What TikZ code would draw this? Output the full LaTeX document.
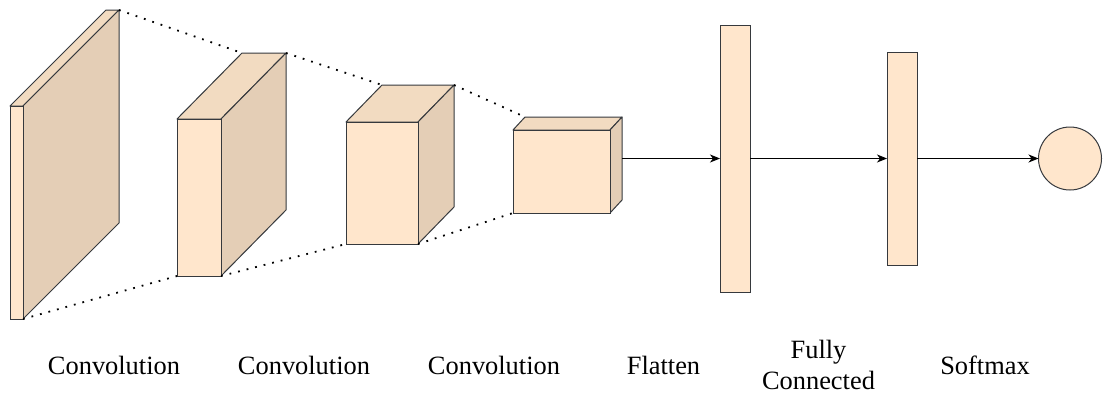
\documentclass[tikz,border=0pt]{standalone}
\usepackage{fontspec}
\setmainfont{Liberation Serif}
\newfontfamily\lblfont{Liberation Serif}
\usetikzlibrary{arrows.meta}
\definecolor{frontc}{HTML}{FFE6CC}
\definecolor{topc}{HTML}{F2DBC1}
\definecolor{sidec}{HTML}{E4CEB6}
\definecolor{edgec}{HTML}{36393D}
\newcommand\mycuboid[7]{%
  % #1 name, (#2,#3) front top-left, (#4,#5) front bottom-right, (#6,#7) depth offset
  \draw[facestyle, fill=topc] (#2,#3) -- ({#2+#6},{#3+#7}) -- ({#4+#6},{#3+#7}) -- (#4,#3) -- cycle;
  \draw[facestyle, fill=sidec] (#4,#3) -- ({#4+#6},{#3+#7}) -- ({#4+#6},{#5+#7}) -- (#4,#5) -- cycle;
  \node[frontbox, minimum width={#4-#2}, minimum height={#5-#3}, anchor=north west] (#1) at (#2,#3) {};
  \coordinate (#1-tbl) at ({#2+#6},{#3+#7});
  \coordinate (#1-tbr) at ({#4+#6},{#3+#7});
  \coordinate (#1-fbl) at (#2,#5);
  \coordinate (#1-fbr) at (#4,#5);
}
\begin{document}
\begin{tikzpicture}[x=1pt,y=-1pt,
  facestyle/.style={draw=edgec, line width=1pt, line join=round},
  frontbox/.style={draw=edgec, fill=frontc, line width=1pt, inner sep=0pt, outer sep=0pt},
  dotline/.style={line width=1.8pt, dash pattern=on 1.8pt off 7pt},
  conn/.style={line width=0.9pt, -{Stealth[length=10pt, width=8pt, inset=3pt]}},
  lbl/.style={font=\lblfont\fontsize{26.4}{30.5}\selectfont, align=center, inner sep=0pt}]
\useasboundingbox (0,0) rectangle (1103,392);

\mycuboid{c1}{10}{106}{23}{319}{96}{-96}
\mycuboid{c2}{177}{119}{221}{276}{65}{-66}
\mycuboid{c3}{346}{122}{418}{244}{36}{-37}
\mycuboid{c4}{513}{130}{610}{213}{12}{-13}

\draw[dotline] (c1-tbr) -- (c2-tbl);
\draw[dotline] (c1-fbr) -- (c2-fbl);
\draw[dotline] (c2-tbr) -- (c3-tbl);
\draw[dotline] (c2-fbr) -- (c3-fbl);
\draw[dotline] (c3-tbr) -- (c4-tbl);
\draw[dotline] (c3-fbr) -- (c4-fbl);

\node[frontbox, minimum width=30, minimum height=267, anchor=north west] (fc1) at (720,25) {};
\node[frontbox, minimum width=30, minimum height=213, anchor=north west] (fc2) at (887,52) {};
\node[frontbox, circle, minimum size=63] (out) at (1070,158.5) {};

\draw[conn] (fc1.west -| c4-tbr) -- (fc1.west);
\draw[conn] (fc1.east) -- (fc2.west);
\draw[conn] (fc2.east) -- (out.west);

\node[lbl, anchor=base] (l1) at (114,374) {Convolution};
\node[lbl, anchor=base] (l2) at (304,374) {Convolution};
\node[lbl, anchor=base] (l3) at (494,374) {Convolution};
\node[lbl, anchor=base] (l4) at (663.5,374) {Flatten};
\node[lbl, anchor=north] (l5) at (818.5,340) {Fully\\Connected};
\node[lbl, anchor=base] (l6) at (985,374) {Softmax};
\end{tikzpicture}
\end{document}
